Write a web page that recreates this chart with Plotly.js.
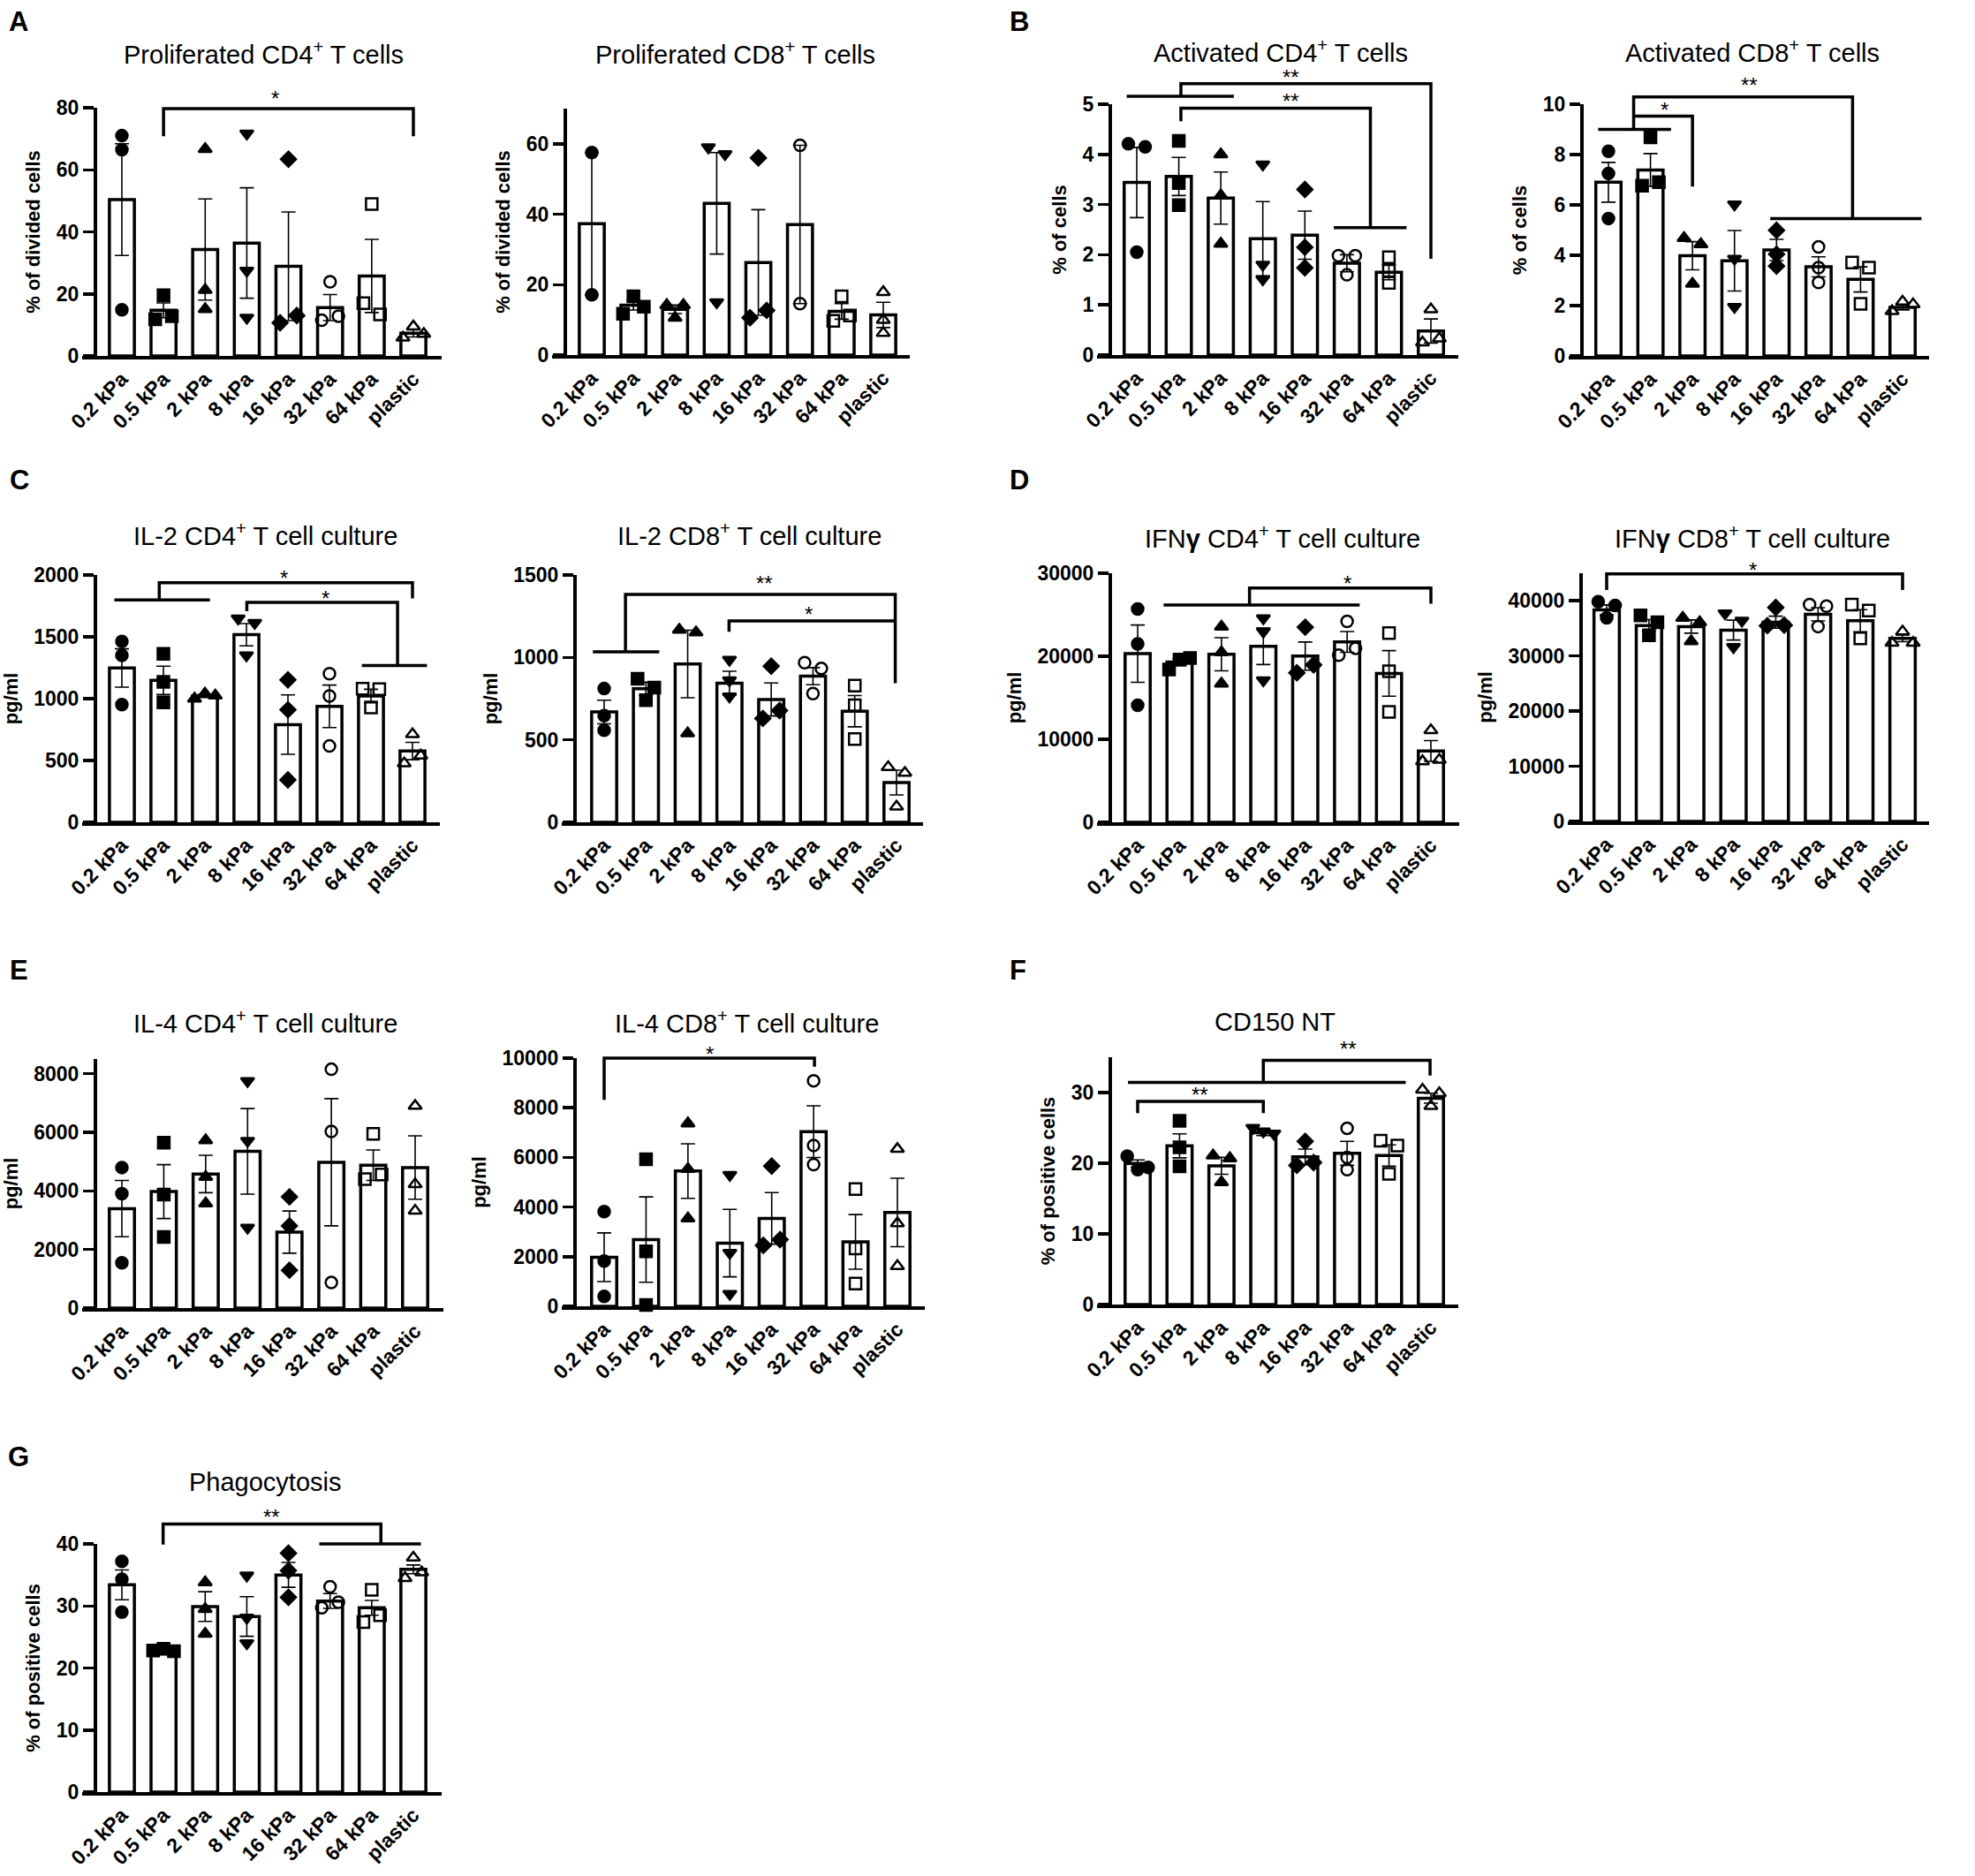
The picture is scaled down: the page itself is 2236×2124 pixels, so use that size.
<!DOCTYPE html>
<html>
<head>
<meta charset="utf-8">
<script src="https://cdn.plot.ly/plotly-3.0.1.min.js"></script>
<style>
html, body { margin: 0; padding: 0; background: #fff; }
#fig { width: 2236px; height: 2124px; }
</style>
</head>
<body>
<div id="fig"></div>
<script>
var categories = ['0.2 kPa', '0.5 kPa', '2 kPa', '8 kPa', '16 kPa', '32 kPa', '64 kPa', 'plastic'];
var symbols = ['circle', 'square', 'triangle-up', 'triangle-down', 'diamond', 'circle-open', 'square-open', 'triangle-up-open'];

// A - proliferated CD4+
var prolifCd4Mean = [50.4, 14.7, 34.3, 36.4, 28.9, 15.6, 25.8, 7.3];
var prolifCd4Sem = [18.0, 2.4, 16.3, 17.8, 17.5, 4.2, 11.8, 1.2];
var prolifCd4Pts = [[71.0, 66.5, 14.9], [11.8, 19.6, 12.8], [66.7, 21.3, 15.1], [71.7, 27.5, 12.3],
    [63.4, 10.7, 13.0], [11.5, 23.9, 12.8], [49.0, 17.0, 13.4], [5.9, 9.5, 7.1]];

// A - proliferated CD8+
var prolifCd8Mean = [37.3, 14.2, 13.0, 43.1, 26.3, 37.1, 12.4, 11.4];
var prolifCd8Sem = [20.2, 1.4, 1.2, 14.4, 15.0, 22.5, 2.2, 3.6];
var prolifCd8Pts = [[57.5, 17.1], [11.7, 16.7, 13.75], [10.6, 14.2, 14.2], [59.0, 15.0, 57.1],
    [56.0, 10.6, 12.7], [59.6, 14.6], [9.75, 16.7, 11.25], [17.9, 10.0, 6.25]];

// B - activated CD4+
var actCd4Mean = [3.44, 3.56, 3.13, 2.32, 2.39, 1.83, 1.65, 0.48];
var actCd4Sem = [0.70, 0.38, 0.52, 0.74, 0.48, 0.17, 0.15, 0.24];
var actCd4Pts = [[4.21, 2.05, 4.15], [4.27, 3.43, 2.99], [4.0, 3.18, 2.22], [3.80, 1.80, 1.51],
    [3.30, 2.15, 1.74], [1.98, 1.60, 1.98], [1.44, 1.95, 1.68], [0.25, 0.91, 0.33]];

// B - activated CD8+
var actCd8Mean = [6.90, 7.39, 3.98, 3.78, 4.21, 3.54, 3.04, 1.93];
var actCd8Sem = [0.79, 0.65, 0.56, 1.2, 0.42, 0.4, 0.5, 0.1];
var actCd8Pts = [[8.13, 7.25, 5.46], [6.76, 8.68, 6.90], [4.68, 2.87, 4.44], [6.02, 3.86, 1.95],
    [4.99, 4.04, 3.57], [4.33, 3.51, 2.92], [3.71, 2.07, 3.51], [1.78, 2.16, 2.05]];

// C - IL-2 CD4+
var il2Cd4Mean = [1248, 1148, 1021, 1517, 790, 938, 1021, 576];
var il2Cd4Sem = [155, 115, 12, 90, 240, 172, 55, 70];
var il2Cd4Pts = [[1462, 1350, 952], [1362, 1136, 969], [1000, 1040, 1025], [1648, 1350, 1612],
    [1152, 910, 343], [1202, 1021, 617], [1081, 929, 1076], [476, 712, 540]];

// C - IL-2 CD8+
var il2Cd8Mean = [669, 810, 960, 844, 745, 886, 674, 241];
var il2Cd8Sem = [72, 40, 205, 72, 100, 52, 95, 75];
var il2Cd8Pts = [[811, 647, 558], [870, 740, 817], [1168, 540, 1152], [986, 861, 763],
    [947, 630, 678], [968, 781, 933], [829, 710, 505], [335, 95, 300]];

// D - IFNg CD4+
var ifnCd4Mean = [20310, 19300, 20240, 21200, 20020, 21730, 17930, 8590];
var ifnCd4Sem = [3450, 450, 2000, 2200, 1700, 1250, 2750, 1250];
var ifnCd4Pts = [[25700, 21480, 14100], [18400, 19600, 19800], [23570, 20480, 16690], [24570, 17110, 22970],
    [18000, 23500, 18960], [20130, 24210, 20950], [22790, 18180, 13310], [7350, 11080, 7530]];

// D - IFNg CD8+
var ifnCd8Mean = [38350, 35500, 35330, 34690, 36120, 37560, 36390, 33200];
var ifnCd8Sem = [900, 1100, 1200, 1800, 1100, 1200, 2000, 600];
var ifnCd8Pts = [[39840, 36920, 39150], [37340, 33730, 36120], [36920, 32670, 36120], [37720, 31610, 36390],
    [38780, 35490, 35590], [39310, 35330, 39040], [39310, 33200, 38250], [32400, 34420, 32400]];

// E - IL-4 CD4+
var il4Cd4Mean = [3394, 3975, 4576, 5347, 2593, 4976, 4876, 4796];
var il4Cd4Sem = [960, 920, 640, 1460, 720, 2170, 520, 1080];
var il4Cd4Pts = [[4796, 3905, 1542], [5647, 3875, 2423], [5727, 4476, 3574], [7750, 5707, 2743],
    [3795, 2804, 1292], [8150, 6028, 871], [4400, 5947, 4560], [6899, 4225, 3324]];

// E - IL-4 CD8+
var il4Cd8Mean = [1979, 2690, 5450, 2547, 3543, 7038, 2595, 3780];
var il4Cd8Sem = [980, 1720, 1100, 1360, 1040, 1040, 1100, 1380];
var il4Cd8Pts = [[3815, 1825, 403], [5924, 2216, 50], [7370, 5533, 3543], [5296, 2156, 498],
    [5651, 2453, 2690], [9088, 6481, 5711], [4727, 2334, 912], [6339, 3341, 1623]];

// F - CD150 NT
var cd150Mean = [19.97, 22.46, 19.64, 24.3, 20.9, 21.4, 21.1, 29.2];
var cd150Sem = [0.5, 1.7, 1.2, 0.4, 1.1, 1.7, 1.5, 0.7];
var cd150Pts = [[21.0, 19.1, 19.4], [26.0, 22.25, 19.56], [21.1, 17.3, 20.7], [25.0, 24.5, 24.2],
    [19.7, 23.1, 20.1], [19.1, 24.95, 20.8], [23.2, 18.5, 22.5], [30.4, 28.1, 29.9]];

// G - phagocytosis
var phagoMean = [33.4, 23.1, 29.9, 28.3, 35.0, 30.8, 29.7, 35.9];
var phagoSem = [2.4, 0.2, 2.4, 3.2, 2.0, 1.2, 1.2, 0.7];
var phagoPts = [[37.2, 34.3, 29.0], [22.8, 23.1, 22.7], [33.8, 29.5, 25.5], [34.9, 28.1, 24.0],
    [38.5, 35.7, 31.4], [29.7, 33.1, 30.6], [27.4, 32.6, 28.5], [34.5, 37.8, 35.4]];

// significance brackets, in data units of each panel
var brackets = {
    a1: [{path: [[1, 70.8], [1, 79.7], [7, 79.7], [7, 70.8]], label: '*', at: [3.68, 84.3]}],
    b1: [
        {path: [[-0.24, 5.16], [2.31, 5.16]]},
        {path: [[1.05, 5.16], [1.05, 5.41], [7, 5.41], [7, 1.92]], label: '**', at: [3.67, 5.62]},
        {path: [[1.05, 4.66], [1.05, 4.92], [5.56, 4.92], [5.56, 2.54]], label: '**', at: [3.67, 5.15]},
        {path: [[4.69, 2.54], [6.42, 2.54]]}
    ],
    b2: [
        {path: [[-0.245, 9.0], [1.49, 9.0]]},
        {path: [[0.6, 9.0], [0.6, 10.29], [5.81, 10.29], [5.81, 5.46]], label: '**', at: [3.36, 10.94]},
        {path: [[3.85, 5.46], [7.45, 5.46]]},
        {path: [[0.6, 9.53], [2.0, 9.53], [2.0, 6.73]], label: '*', at: [1.33, 9.94]}
    ],
    c1: [
        {path: [[-0.18, 1798], [2.12, 1798]]},
        {path: [[0.9, 1798], [0.9, 1938], [7, 1938], [7, 1810]], label: '*', at: [3.91, 2010]},
        {path: [[3.01, 1707], [3.01, 1779], [6.64, 1779], [6.64, 1267]], label: '*', at: [4.9, 1843]},
        {path: [[5.78, 1267], [7.35, 1267]]}
    ],
    c2: [
        {path: [[-0.27, 1034], [1.32, 1034]]},
        {path: [[0.51, 1034], [0.51, 1382], [6.97, 1382], [6.97, 844]], label: '**', at: [3.83, 1477]},
        {path: [[2.99, 1156], [2.99, 1222], [6.97, 1222]], label: '*', at: [4.9, 1290]}
    ],
    d1: [
        {path: [[0.62, 26170], [5.3, 26170]]},
        {path: [[2.67, 26170], [2.67, 28230], [7, 28230], [7, 26340]], label: '*', at: [5.0, 29360]}
    ],
    d2: [{path: [[0, 41970], [0, 44890], [7, 44890], [7, 41970]], label: '*', at: [3.46, 46320]}],
    e1: [],
    e2: [{path: [[0, 8318], [0, 10000], [5.02, 10000], [5.02, 9656]], label: '*', at: [2.52, 10330]}],
    f: [
        {path: [[-0.23, 31.45], [6.4, 31.45]]},
        {path: [[3.0, 31.45], [3.0, 34.56], [6.98, 34.56], [6.98, 32.4]], label: '**', at: [5.02, 36.8]},
        {path: [[0, 27.1], [0, 28.76], [3.0, 28.76], [3.0, 27.1]], label: '**', at: [1.49, 30.3]}
    ],
    g: [
        {path: [[0.99, 39.9], [0.99, 43.2], [6.22, 43.2], [6.22, 40.0]], label: '**', at: [3.6, 45.1]},
        {path: [[4.74, 40.0], [7.18, 40.0]]}
    ]
};

var W = 2236, H = 2124;
var FONT = 'Liberation Sans, Arial, Helvetica, sans-serif';

// frame px: [y axis x, first bar x, last bar x, x axis end, axis top y, zero y]
var panels = [
    {key: 'a1', frame: [107, 138, 468, 500, 122, 403], titleAt: [298, 60], ymax: 80, dtick: 20,
        title: 'Proliferated CD4<sup>+</sup> T cells', ytitle: '% of divided cells',
        mean: prolifCd4Mean, sem: prolifCd4Sem, pts: prolifCd4Pts},
    {key: 'a2', frame: [639, 670, 1000, 1030, 123, 402], titleAt: [832, 60], ymax: 70, dtick: 20,
        title: 'Proliferated CD8<sup>+</sup> T cells', ytitle: '% of divided cells',
        mean: prolifCd8Mean, sem: prolifCd8Sem, pts: prolifCd8Pts},
    {key: 'b1', frame: [1256, 1287, 1620, 1651, 118, 402], titleAt: [1450, 58], ymax: 5, dtick: 1,
        title: 'Activated CD4<sup>+</sup> T cells', ytitle: '% of cells',
        mean: actCd4Mean, sem: actCd4Sem, pts: actCd4Pts},
    {key: 'b2', frame: [1790, 1821, 2154, 2184, 118, 403], titleAt: [1984, 58], ymax: 10, dtick: 2,
        title: 'Activated CD8<sup>+</sup> T cells', ytitle: '% of cells',
        mean: actCd8Mean, sem: actCd8Sem, pts: actCd8Pts},
    {key: 'c1', frame: [107, 138, 467, 498, 651, 931], titleAt: [300, 605], ymax: 2000, dtick: 500,
        title: 'IL-2 CD4<sup>+</sup> T cell culture', ytitle: 'pg/ml',
        mean: il2Cd4Mean, sem: il2Cd4Sem, pts: il2Cd4Pts},
    {key: 'c2', frame: [650, 684, 1015, 1045, 651, 931], titleAt: [848, 605], ymax: 1500, dtick: 500,
        title: 'IL-2 CD8<sup>+</sup> T cell culture', ytitle: 'pg/ml',
        mean: il2Cd8Mean, sem: il2Cd8Sem, pts: il2Cd8Pts},
    {key: 'd1', frame: [1256, 1288, 1620, 1652, 649, 931], titleAt: [1452, 608], ymax: 30000, dtick: 10000,
        title: 'IFN<b>γ</b> CD4<sup>+</sup> T cell culture', ytitle: 'pg/ml',
        mean: ifnCd4Mean, sem: ifnCd4Sem, pts: ifnCd4Pts},
    {key: 'd2', frame: [1789, 1819, 2154, 2184, 649, 930], titleAt: [1984, 608], ymax: 45000, dtick: 10000,
        title: 'IFN<b>γ</b> CD8<sup>+</sup> T cell culture', ytitle: 'pg/ml',
        mean: ifnCd8Mean, sem: ifnCd8Sem, pts: ifnCd8Pts},
    {key: 'e1', frame: [107, 138, 470, 502, 1199, 1481], titleAt: [300, 1157], ymax: 8500, dtick: 2000,
        title: 'IL-4 CD4<sup>+</sup> T cell culture', ytitle: 'pg/ml',
        mean: il4Cd4Mean, sem: il4Cd4Sem, pts: il4Cd4Pts},
    {key: 'e2', frame: [650, 684, 1016, 1047, 1198, 1479], titleAt: [845, 1157], ymax: 10000, dtick: 2000,
        title: 'IL-4 CD8<sup>+</sup> T cell culture', ytitle: 'pg/ml',
        mean: il4Cd8Mean, sem: il4Cd8Sem, pts: il4Cd8Pts},
    {key: 'f', frame: [1256, 1288, 1620, 1651, 1197, 1477], titleAt: [1443, 1157], ymax: 35, dtick: 10,
        title: 'CD150 NT', ytitle: '% of positive cells',
        mean: cd150Mean, sem: cd150Sem, pts: cd150Pts},
    {key: 'g', frame: [107, 138, 468, 500, 1748, 2029], titleAt: [300, 1678], ymax: 40, dtick: 10,
        title: 'Phagocytosis', ytitle: '% of positive cells',
        mean: phagoMean, sem: phagoSem, pts: phagoPts}
];

var letters = [['A', 21, 24], ['B', 1154, 24], ['C', 22, 543], ['D', 1154, 543],
    ['E', 21, 1098], ['F', 1152, 1098], ['G', 21, 1649]];

// spread points that would overlap (like GraphPad scatter)
function jitter(vals, pxPerUnit) {
    var order = vals.map(function (v, i) { return i; });
    order.sort(function (a, b) { return vals[a] - vals[b]; });
    var groups = [], cur = [order[0]];
    for (var k = 1; k < order.length; k++) {
        if ((vals[order[k]] - vals[order[k - 1]]) * pxPerUnit < 13) {
            cur.push(order[k]);
        } else {
            groups.push(cur);
            cur = [order[k]];
        }
    }
    groups.push(cur);
    var off = vals.map(function () { return 0; });
    groups.forEach(function (g) {
        g.sort(function (a, b) { return a - b; });
        var n = g.length;
        g.forEach(function (idx, j) {
            if (n === 2) {
                off[idx] = j === 0 ? -0.2 : 0.2;
            } else if (n > 2) {
                off[idx] = -0.25 + 0.5 * j / (n - 1);
            }
        });
    });
    return off;
}

var traces = [];
var layout = {
    width: W, height: H,
    margin: {l: 0, r: 0, t: 0, b: 0},
    paper_bgcolor: 'white',
    plot_bgcolor: 'rgba(0,0,0,0)',
    showlegend: false,
    font: {family: FONT, color: 'black'},
    shapes: [],
    annotations: []
};
var tickIdx = categories.map(function (c, i) { return i; });

panels.forEach(function (p, i) {
    var sx = i === 0 ? '' : String(i + 1);
    var f = p.frame;
    var step = (f[2] - f[1]) / 7;
    var left = f[0] - 14;
    var yDom = [1 - f[5] / H, 1 - f[4] / H];
    var pxPerUnit = (f[5] - f[4]) / p.ymax;

    layout['xaxis' + sx] = {
        domain: [left / W, f[3] / W],
        range: [-(f[1] - left) / step, 7 + (f[3] - f[2]) / step],
        anchor: 'y' + sx,
        showline: true, linewidth: 3.5, linecolor: 'black',
        ticks: '', showgrid: false, zeroline: false,
        tickmode: 'array', tickvals: tickIdx, ticktext: categories,
        tickangle: -45,
        tickfont: {family: FONT, size: 23, color: 'black', weight: 'bold'}
    };
    layout['yaxis' + sx] = {
        domain: yDom,
        range: [0, p.ymax],
        anchor: 'free', position: f[0] / W,
        showline: true, linewidth: 3.5, linecolor: 'black',
        ticks: 'outside', ticklen: 12, tickwidth: 3.5, tickcolor: 'black',
        tickmode: 'linear', tick0: 0, dtick: p.dtick,
        exponentformat: 'none', separatethousands: false, tickformat: 'd',
        showgrid: false, zeroline: false,
        tickfont: {family: FONT, size: 23, color: 'black', weight: 'bold'},
        title: {text: p.ytitle, standoff: 10, font: {family: FONT, size: 22, color: 'black', weight: 'bold'}}
    };

    traces.push({
        type: 'bar', x: tickIdx, y: p.mean, width: 0.6,
        xaxis: 'x' + sx, yaxis: 'y' + sx,
        marker: {color: 'white', line: {color: 'black', width: 3.5}},
        error_y: {type: 'data', array: p.sem, visible: true, color: 'black', thickness: 1.6, width: 8}
    });

    var px = [], py = [], ps = [];
    p.pts.forEach(function (vals, g) {
        var off = jitter(vals, pxPerUnit);
        vals.forEach(function (v, k) {
            px.push(g + off[k]);
            py.push(v);
            ps.push(symbols[g]);
        });
    });
    traces.push({
        type: 'scatter', mode: 'markers', x: px, y: py,
        xaxis: 'x' + sx, yaxis: 'y' + sx, cliponaxis: false,
        marker: {symbol: ps, size: 13, color: 'black', line: {color: 'black', width: 2.5}}
    });

    function toPaper(v) {
        return yDom[0] + (v / p.ymax) * (yDom[1] - yDom[0]);
    }
    (brackets[p.key] || []).forEach(function (b) {
        var d = b.path.map(function (pt, k) {
            return (k === 0 ? 'M' : 'L') + pt[0] + ',' + toPaper(pt[1]);
        }).join(' ');
        layout.shapes.push({
            type: 'path', path: d, xref: 'x' + sx, yref: 'paper',
            line: {color: 'black', width: 3.5}
        });
        if (b.label) {
            layout.annotations.push({
                xref: 'x' + sx, yref: 'paper', x: b.at[0], y: toPaper(b.at[1]),
                text: b.label, showarrow: false, xanchor: 'center', yanchor: 'middle', yshift: -5,
                font: {family: FONT, size: 24, color: 'black'}
            });
        }
    });

    layout.annotations.push({
        xref: 'paper', yref: 'paper', x: p.titleAt[0] / W, y: 1 - p.titleAt[1] / H,
        text: p.title, showarrow: false, xanchor: 'center', yanchor: 'middle',
        font: {family: FONT, size: 29, color: 'black'}
    });
});

letters.forEach(function (l) {
    layout.annotations.push({
        xref: 'paper', yref: 'paper', x: l[1] / W, y: 1 - l[2] / H,
        text: l[0], showarrow: false, xanchor: 'center', yanchor: 'middle',
        font: {family: FONT, size: 31, color: 'black', weight: 'bold'}
    });
});

Plotly.newPlot('fig', traces, layout, {staticPlot: true});
</script>
</body>
</html>
